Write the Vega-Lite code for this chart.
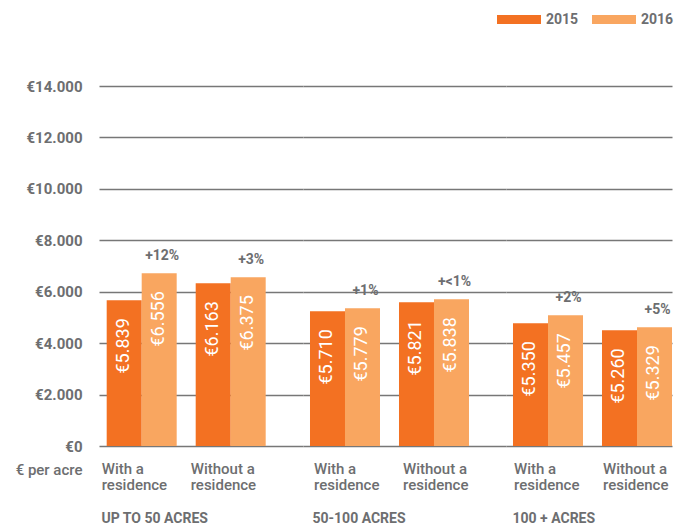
{
  "$schema": "https://vega.github.io/schema/vega-lite/v6.json",
  "padding": {"left": 15, "top": 8, "right": 2, "bottom": 2},
  "bounds": "flush",
  "spacing": 0,
  "data": {"values": [
    {"group": "UP TO 50 ACRES", "sub": "With a residence", "year": "2015", "bar": 5670, "label": "€5.839", "pct": ""},
    {"group": "UP TO 50 ACRES", "sub": "With a residence", "year": "2016", "bar": 6720, "label": "€6.556", "pct": "+12%"},
    {"group": "UP TO 50 ACRES", "sub": "Without a residence", "year": "2015", "bar": 6330, "label": "€6.163", "pct": ""},
    {"group": "UP TO 50 ACRES", "sub": "Without a residence", "year": "2016", "bar": 6565, "label": "€6.375", "pct": "+3%"},
    {"group": "50-100 ACRES", "sub": "With a residence", "year": "2015", "bar": 5240, "label": "€5.710", "pct": ""},
    {"group": "50-100 ACRES", "sub": "With a residence", "year": "2016", "bar": 5360, "label": "€5.779", "pct": "+1%"},
    {"group": "50-100 ACRES", "sub": "Without a residence", "year": "2015", "bar": 5590, "label": "€5.821", "pct": ""},
    {"group": "50-100 ACRES", "sub": "Without a residence", "year": "2016", "bar": 5710, "label": "€5.838", "pct": "+<1%"},
    {"group": "100 + ACRES", "sub": "With a residence", "year": "2015", "bar": 4775, "label": "€5.350", "pct": ""},
    {"group": "100 + ACRES", "sub": "With a residence", "year": "2016", "bar": 5085, "label": "€5.457", "pct": "+2%"},
    {"group": "100 + ACRES", "sub": "Without a residence", "year": "2015", "bar": 4500, "label": "€5.260", "pct": ""},
    {"group": "100 + ACRES", "sub": "Without a residence", "year": "2016", "bar": 4620, "label": "€5.329", "pct": "+5%"}
  ]},
  "resolve": {"scale": {"x": "independent", "xOffset": "independent", "color": "shared"}, "legend": {"color": "shared"}},
  "hconcat": [
    {
      "width": 204, "height": 360,
      "transform": [{"filter": "datum.group == 'UP TO 50 ACRES'"}],
      "encoding": {
        "x": {"field": "sub", "type": "nominal", "sort": null,
          "scale": {"paddingInner": 0.2135, "paddingOuter": 0.2528, "align": 0.171},
          "axis": {"title": "UP TO 50 ACRES", "titleX": 2, "labelOffset": -40}},
        "xOffset": {"field": "year", "type": "nominal", "scale": {"domain": ["2015", "2016"], "paddingInner": 0, "paddingOuter": 0}},
        "y": {"field": "bar", "type": "quantitative", "scale": {"domain": [0, 14000], "nice": false},
          "axis": {"values": [0, 2000, 4000, 6000, 8000, 10000, 12000, 14000],
            "labelExpr": "'€' + replace(format(datum.value, ',d'), ',', '.')",
            "labelPadding": 17, "labelFontSize": 15, "labelFontWeight": "bold", "labelColor": "#6d6e70",
            "title": "€ per acre", "titleAngle": 0, "titleAlign": "right", "titleBaseline": "middle",
            "titleX": -17, "titleY": 383, "titleFontSize": 15, "titleFontWeight": 500, "titleColor": "#6d6e70"}}
      },
      "layer": [
        {"mark": {"type": "bar"}, "encoding": {"color": {"field": "year", "type": "nominal", "scale": {"domain": ["2015", "2016"], "range": ["#F37122", "#F9A660"]}, "legend": {"title": null}}}},
        {"mark": {"type": "text", "angle": 270, "align": "right", "baseline": "middle", "dx": -18, "color": "white", "fontSize": 18, "font": "Roboto"}, "encoding": {"text": {"field": "label"}}},
        {"transform": [{"filter": "datum.year == '2016'"}], "mark": {"type": "text", "baseline": "middle", "dy": -17, "dx": 3, "fontSize": 14, "fontWeight": "bold", "color": "#6d6e70"}, "encoding": {"text": {"field": "pct"}}}
      ]
    },
    {
      "width": 203, "height": 360,
      "transform": [{"filter": "datum.group == '50-100 ACRES'"}],
      "encoding": {
        "x": {"field": "sub", "type": "nominal", "sort": null,
          "scale": {"paddingInner": 0.2135, "paddingOuter": 0.2472, "align": 0.159},
          "axis": {"title": "50-100 ACRES", "titleX": 9, "labelOffset": -31}},
        "xOffset": {"field": "year", "type": "nominal", "scale": {"domain": ["2015", "2016"], "paddingInner": 0, "paddingOuter": 0}},
        "y": {"field": "bar", "type": "quantitative", "scale": {"domain": [0, 14000], "nice": false},
          "axis": {"values": [0, 2000, 4000, 6000, 8000, 10000, 12000, 14000], "labels": false, "title": null}}
      },
      "layer": [
        {"mark": {"type": "bar"}, "encoding": {"color": {"field": "year", "type": "nominal", "scale": {"domain": ["2015", "2016"], "range": ["#F37122", "#F9A660"]}, "legend": {"title": null}}}},
        {"mark": {"type": "text", "angle": 270, "align": "right", "baseline": "middle", "dx": -18, "color": "white", "fontSize": 18, "font": "Roboto"}, "encoding": {"text": {"field": "label"}}},
        {"transform": [{"filter": "datum.year == '2016'"}], "mark": {"type": "text", "baseline": "middle", "dy": -17, "dx": 3, "fontSize": 14, "fontWeight": "bold", "color": "#6d6e70"}, "encoding": {"text": {"field": "pct"}}}
      ]
    },
    {
      "width": 166, "height": 360,
      "transform": [{"filter": "datum.group == '100 + ACRES'"}],
      "encoding": {
        "x": {"field": "sub", "type": "nominal", "sort": null,
          "scale": {"paddingInner": 0.2135, "paddingOuter": 0.0393, "align": 1},
          "axis": {"title": "100 + ACRES", "titleX": 6, "labelOffset": -34}},
        "xOffset": {"field": "year", "type": "nominal", "scale": {"domain": ["2015", "2016"], "paddingInner": 0, "paddingOuter": 0}},
        "y": {"field": "bar", "type": "quantitative", "scale": {"domain": [0, 14000], "nice": false},
          "axis": {"values": [0, 2000, 4000, 6000, 8000, 10000, 12000, 14000], "labels": false, "title": null}}
      },
      "layer": [
        {"mark": {"type": "bar"}, "encoding": {"color": {"field": "year", "type": "nominal", "scale": {"domain": ["2015", "2016"], "range": ["#F37122", "#F9A660"]}, "legend": {"title": null}}}},
        {"mark": {"type": "text", "angle": 270, "align": "right", "baseline": "middle", "dx": -18, "color": "white", "fontSize": 18, "font": "Roboto"}, "encoding": {"text": {"field": "label"}}},
        {"transform": [{"filter": "datum.year == '2016'"}], "mark": {"type": "text", "baseline": "middle", "dy": -17, "dx": 3, "fontSize": 14, "fontWeight": "bold", "color": "#6d6e70"}, "encoding": {"text": {"field": "pct"}}}
      ]
    }
  ],
  "config": {
    "font": "Roboto",
    "view": {"stroke": null},
    "axisY": {"grid": true, "gridColor": "#777777", "gridWidth": 1.3, "domain": false, "ticks": false},
    "axisX": {"domain": false, "ticks": false, "grid": false, "labelAngle": 0,
      "labelAlign": "left", "labelBaseline": "top", "labelPadding": 15, "labelLineHeight": 16,
      "labelFontSize": 15, "labelFontWeight": 500, "labelColor": "#6d6e70",
      "labelExpr": "datum.value == 'With a residence' ? ['With a', 'residence'] : ['Without a', 'residence']",
      "titleAnchor": "start", "titleAlign": "left", "titlePadding": 19, "titleFontSize": 14, "titleFontWeight": "bold", "titleColor": "#6d6e70"},
    "legend": {"orient": "none", "legendX": 409, "legendY": -77.5, "direction": "horizontal",
      "symbolType": "M-2,-0.4H2V0.4H-2Z", "symbolSize": 484, "symbolStrokeWidth": 0, "symbolOpacity": 1,
      "labelFontSize": 14, "labelFontWeight": "bold", "labelColor": "#6d6e70", "labelOffset": 16, "columnPadding": 13}
  }
}
